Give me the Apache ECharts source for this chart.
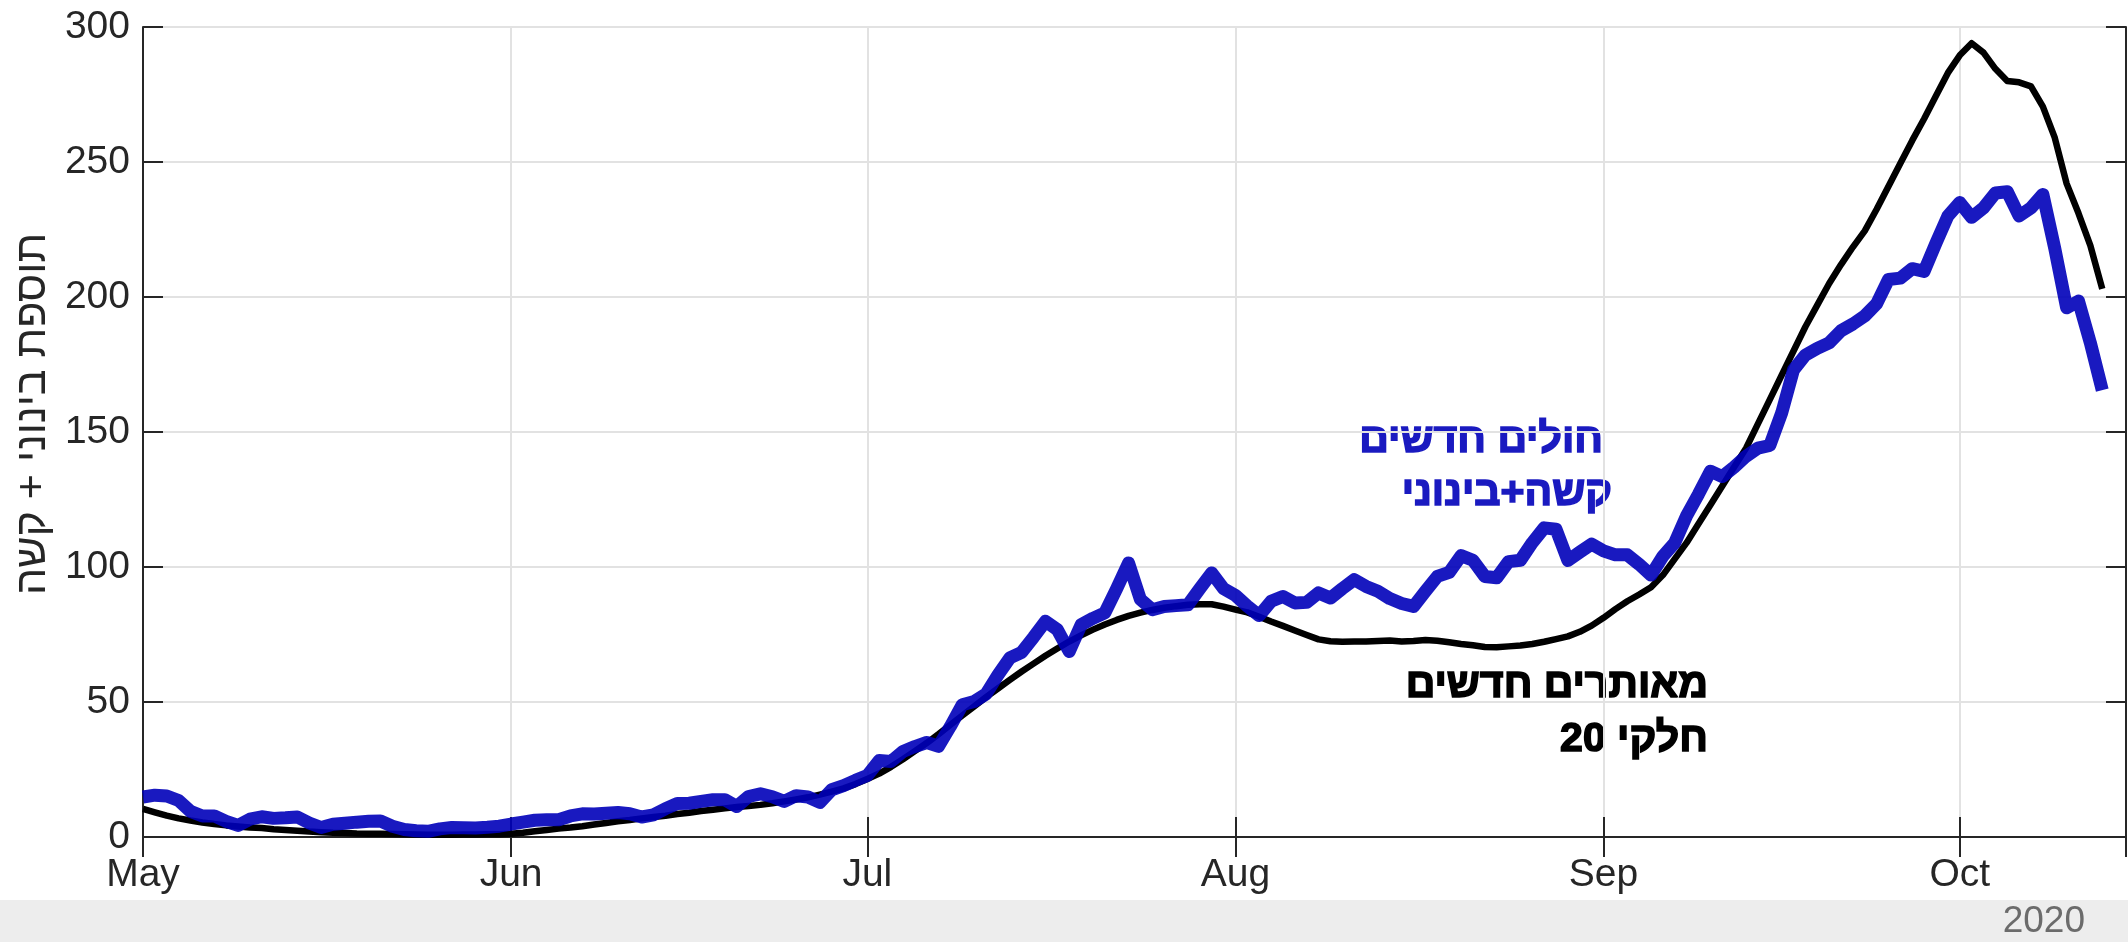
<!DOCTYPE html>
<html>
<head>
<meta charset="utf-8">
<title>חולים חדשים מול מאותרים חדשים</title>
<script src="https://cdn.jsdelivr.net/npm/echarts@6/dist/echarts.min.js"></script>
<style>
  html, body { margin: 0; padding: 0; background: #fff; }
  #chart { width: 2128px; height: 942px; }
</style>
</head>
<body>
<div id="chart"></div>
<script>
// first day of the series, one value per day
const startDay = Date.UTC(2020, 4, 1);
const dayMs = 86400000;
const axisStart = Date.UTC(2020, 4, 1);
const axisEnd = Date.UTC(2020, 9, 15);

// new severe + moderate patients (blue)
const severeModerate = [
  14.8, 15.5, 15.2, 13.5, 9.5, 7.8, 7.8, 5.8, 4.3, 6.6,
  7.5, 6.9, 7.1, 7.4, 5.2, 3.5, 4.7, 5.1, 5.5, 5.8,
  5.9, 4.0, 2.8, 2.3, 2.1, 3.0, 3.5, 3.4, 3.3, 3.6,
  4.0, 4.8, 5.5, 6.2, 6.4, 6.4, 7.8, 8.6, 8.5, 8.8,
  9.1, 8.6, 7.4, 8.2, 10.5, 12.4, 12.5, 13.2, 13.8, 13.8,
  11.3, 15.0, 16.0, 14.9, 13.2, 15.3, 14.8, 12.8, 17.5, 19,
  21, 22.8, 28.3, 28, 31.7, 33.5, 35, 33.6, 41, 49,
  50.2, 53, 60, 66.3, 68.4, 74, 79.9, 76.8, 68.7, 78.6,
  81, 83, 92, 101.5, 88, 84.2, 85.4, 85.7, 86, 92,
  97.8, 92, 89.5, 85.5, 82, 87.3, 89.1, 86.7, 86.9, 90.4,
  88.5, 92, 95.3, 92.8, 91, 88.3, 86.5, 85.4, 91, 96.5,
  98, 104.2, 102.5, 96.5, 96, 102, 102.5, 109, 114.5, 114,
  102.4, 105.5, 108.5, 106, 104.5, 104.5, 101, 97, 104, 109,
  119, 127, 135.5, 133.5, 137, 141, 144, 145, 157, 173,
  178.5, 181, 183, 187.5, 190, 193, 197.5, 206.5, 207, 210.5,
  209.5, 220, 230, 235, 229.5, 233, 238.5, 239, 230, 233,
  238, 218, 196, 198.5, 183, 165.5
];

// new confirmed cases divided by 20 (black)
const confirmedOver20 = [
  10.4, 9.1, 7.9, 6.9, 6.1, 5.4, 4.8, 4.3, 3.9, 3.5,
  3.3, 2.9, 2.6, 2.3, 2.0, 1.8, 1.6, 1.5, 1.3, 1.2,
  1.2, 1.1, 1.0, 0.9, 0.8, 0.8, 0.8, 0.9, 0.9, 1.0,
  1.0, 1.2, 1.6, 2.1, 2.6, 3.1, 3.5, 4.0, 4.6, 5.2,
  5.8, 6.3, 6.9, 7.4, 7.9, 8.5, 9.0, 9.6, 10.1, 10.6,
  11.1, 11.5, 11.9, 12.5, 13.2, 13.9, 14.7, 15.7, 16.8, 18.0,
  19.6, 21.5, 23.5, 26, 28.8, 31.8, 34.8, 38.1, 41.6, 45.0,
  48.4, 51.8, 55.0, 58.2, 61.3, 64.2, 67.1, 69.8, 72.4, 74.7,
  76.8, 78.7, 80.4, 81.9, 83.1, 84.1, 84.9, 85.5, 86.0, 86.2,
  86.2, 85.3, 84.2, 83.2, 81.6, 79.8, 78.2, 76.5, 74.8, 73.2,
  72.5, 72.3, 72.4, 72.4, 72.6, 72.8, 72.4, 72.6, 73.0, 72.7,
  72.1, 71.5, 71.0, 70.4, 70.3, 70.6, 70.9, 71.5, 72.3, 73.3,
  74.3, 76.0, 78.3, 81.2, 84.4, 87.3, 89.8, 92.5, 97, 103,
  109, 116, 123, 130, 137, 144, 153, 162, 171, 180,
  189, 197, 205, 212, 218.5, 224.5, 232.5, 241, 249.5, 258,
  266, 274.5, 283, 289.5, 294, 290.5, 284.5, 280, 279.5, 278,
  270.5, 259, 242, 231, 219, 203
];

const yTicks = [0, 50, 100, 150, 200, 250, 300];

const blueLabel = ['חולים חדשים', 'קשה+בינוני'];
const blackLabel = ['מאותרים חדשים', 'חלקי 20'];
const yName = 'תוספת בינוני + קשה';
const yearLabel = '2020';

function toPoints(values) {
  return values.map(function (v, i) {
    return [startDay + i * dayMs, v];
  });
}

const axisColor = '#262626';
const gridColor = '#e2e2e2';
const blue = '#1a1ac0';
const font = 'Liberation Sans, Arial, Helvetica, sans-serif';

var myChart = echarts.init(document.getElementById('chart'));

// heavy annotation text (stroke in the same colour makes it bolder)
function note(text, x, y, color) {
  return {
    type: 'text',
    x: x,
    y: y,
    style: {
      text: text,
      fill: color,
      stroke: color,
      lineWidth: 1.6,
      font: 'bold 41px ' + font,
      align: 'right',
      verticalAlign: 'middle'
    }
  };
}

var option = {
  useUTC: true,
  animation: false,
  backgroundColor: '#ffffff',
  grid: {
    left: 143,
    right: 2,
    top: 27,
    bottom: 105
  },
  xAxis: [
    {
      type: 'time',
      min: axisStart,
      max: axisEnd,
      position: 'bottom',
      splitNumber: 5,
      axisLine: { lineStyle: { color: axisColor, width: 2 } },
      axisTick: { inside: true, length: 20, lineStyle: { color: axisColor, width: 2 } },
      axisLabel: {
        formatter: '{MMM}',
        color: axisColor,
        fontSize: 39,
        fontFamily: font,
        margin: 19,
        showMaxLabel: false
      },
      splitLine: { show: true, lineStyle: { color: gridColor, width: 2 } }
    },
    {
      type: 'time',
      min: axisStart,
      max: axisEnd,
      position: 'top',
      splitNumber: 5,
      axisLine: { lineStyle: { color: axisColor, width: 2 } },
      axisTick: { inside: true, length: 20, lineStyle: { color: axisColor, width: 2 } },
      axisLabel: { show: false },
      splitLine: { show: false }
    }
  ],
  yAxis: [
    {
      type: 'value',
      min: yTicks[0],
      max: yTicks[yTicks.length - 1],
      interval: 50,
      position: 'left',
      axisLine: { show: true, lineStyle: { color: axisColor, width: 2 } },
      axisTick: { show: true, inside: true, length: 20, lineStyle: { color: axisColor, width: 2 } },
      axisLabel: { color: axisColor, fontSize: 39, fontFamily: font, margin: 13 },
      splitLine: { show: true, lineStyle: { color: gridColor, width: 2 } }
    },
    {
      type: 'value',
      min: yTicks[0],
      max: yTicks[yTicks.length - 1],
      interval: 50,
      position: 'right',
      axisLine: { show: true, lineStyle: { color: axisColor, width: 2 } },
      axisTick: { show: true, inside: true, length: 20, lineStyle: { color: axisColor, width: 2 } },
      axisLabel: { show: false },
      splitLine: { show: false }
    }
  ],
  series: [
    {
      name: blackLabel.join(' '),
      type: 'line',
      data: toPoints(confirmedOver20),
      showSymbol: false,
      lineStyle: { color: '#000000', width: 6.5, join: 'round', cap: 'butt' },
      z: 3
    },
    {
      name: blueLabel.join(' '),
      type: 'line',
      data: toPoints(severeModerate),
      showSymbol: false,
      lineStyle: { color: '#0000b9', width: 13, opacity: 0.9, join: 'round', cap: 'butt' },
      z: 4
    }
  ],
  graphic: [
    // gray strip with the year
    {
      type: 'rect',
      left: 0,
      top: 900,
      shape: { width: 2128, height: 42 },
      style: { fill: '#ededed' },
      z: -10
    },
    {
      type: 'text',
      right: 43,
      top: 903,
      style: { text: yearLabel, fill: '#6b6b6b', font: '37px ' + font }
    },
    // y axis title, read bottom to top
    {
      type: 'text',
      x: 33,
      y: 414,
      rotation: Math.PI / 2,
      style: { text: yName, fill: axisColor, font: '43px ' + font, align: 'center', verticalAlign: 'middle' }
    },
    note(blueLabel[0], 1603, 441, blue),
    note(blueLabel[1], 1612, 494, blue),
    note(blackLabel[0], 1708, 686, '#000000'),
    note(blackLabel[1], 1708, 740, '#000000')
  ]
};

myChart.setOption(option);
</script>
</body>
</html>
